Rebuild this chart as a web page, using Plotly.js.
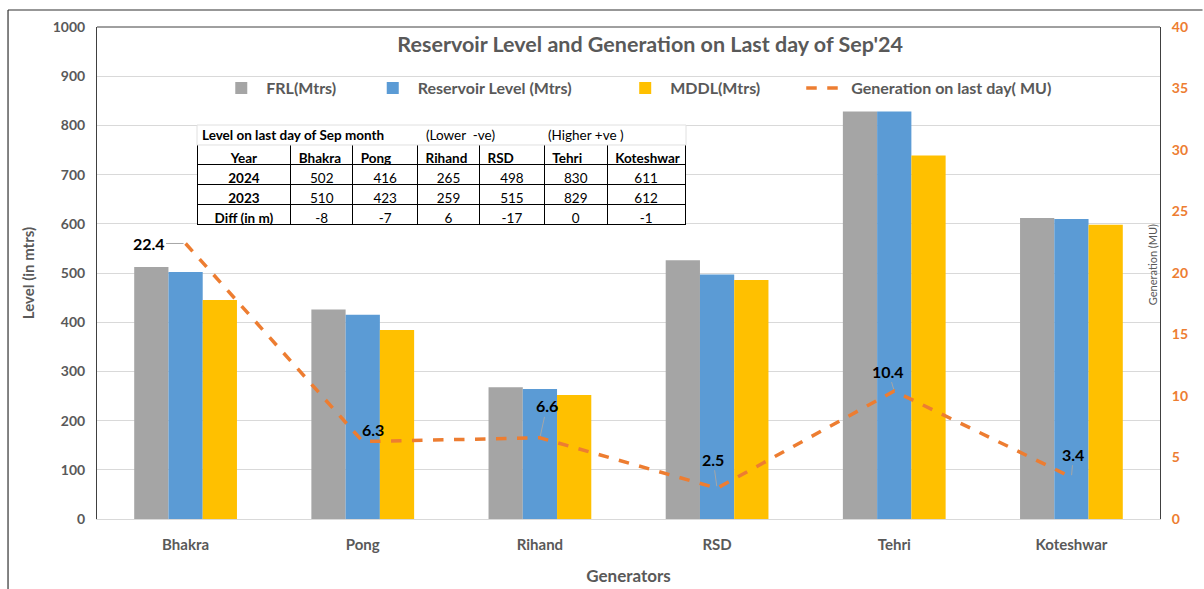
<!DOCTYPE html>
<html>
<head>
<meta charset="utf-8">
<script src="https://cdn.plot.ly/plotly-3.0.1.min.js"></script>
<style>html,body{margin:0;padding:0;background:#fff;}#chart{width:1204px;height:589px;}</style>
</head>
<body>
<div id="chart"></div>
<script>
// ---- data ----
const generators = ['Bhakra', 'Pong', 'Rihand', 'RSD', 'Tehri', 'Koteshwar'];
const frl = [512, 426, 268, 526, 828, 612];
const reservoirLevel = [502, 415, 264, 497, 828, 610];
const mddl = [445, 384, 252, 486, 739, 598];
const generation = [22.4, 6.3, 6.6, 2.5, 10.4, 3.4];

const tableHeader = ['Year', 'Bhakra', 'Pong', 'Rihand', 'RSD', 'Tehri', 'Koteshwar'];
const tableYears = ['2024', '2023', 'Diff (in m)'];
const level2024 = [502, 416, 265, 498, 830, 611];
const level2023 = [510, 423, 259, 515, 829, 612];
const levelDiff = [-8, -7, 6, -17, 0, -1];
const tableTitle = 'Level on last day of Sep month';
const tableNoteLower = '(Lower  -ve)';
const tableNoteHigher = '(Higher +ve )';

// label offsets for generation data labels (px)
const labelOffsets = [[-37, 0, true], [10, -12, false], [7, -32, true], [-4, -29, true], [-6, -20, true], [2, -23, true]];

const FONT = 'Lato, "Open Sans", sans-serif';
const GRAY = '#595959';
const ORANGE = '#ED7D31';

// ---- traces ----
const barFRL = {type: 'bar', name: 'FRL(Mtrs)', x: generators, y: frl, marker: {color: '#A5A5A5'}, legend: 'legend', hoverinfo: 'skip'};
const barRL = {type: 'bar', name: 'Reservoir Level (Mtrs)', x: generators, y: reservoirLevel, marker: {color: '#5B9BD5'}, legend: 'legend2', hoverinfo: 'skip'};
const barMDDL = {type: 'bar', name: 'MDDL(Mtrs)', x: generators, y: mddl, marker: {color: '#FFC000'}, legend: 'legend3', hoverinfo: 'skip'};
const genLine = {type: 'scatter', mode: 'lines', name: 'Generation on last day( MU)', x: generators, y: generation, yaxis: 'y2',
  line: {color: ORANGE, width: 3.5, dash: 'dash'}, legend: 'legend4', hoverinfo: 'skip'};

// table columns
const tableColumns = [tableYears];
for (let i = 0; i < generators.length; i++) {
  tableColumns.push([level2024[i], level2023[i], levelDiff[i]]);
}
const table = {
  type: 'table',
  domain: {x: [0.0941, 0.5541], y: [0.5935, 0.7602]},
  columnwidth: [94, 62, 65, 62, 65, 63, 78],
  header: {
    values: tableHeader,
    align: ['center', 'left', 'left', 'left', 'left', 'left', 'left'],
    height: 20,
    line: {color: '#000', width: 1},
    fill: {color: '#fff'},
    font: {family: FONT, size: 13.5, color: '#000', weight: 'bold'}
  },
  cells: {
    values: tableColumns,
    align: 'center',
    height: 20,
    line: {color: '#000', width: 1},
    fill: {color: '#fff'},
    font: {family: FONT, size: 13.5, color: '#000', weight: ['bold', 'normal', 'normal', 'normal', 'normal', 'normal', 'normal']}
  }
};

// ---- annotations ----
const annotations = generation.map((v, i) => {
  const o = labelOffsets[i];
  const a = {x: generators[i], y: v, xref: 'x', yref: 'y2', text: String(v),
    font: {family: FONT, size: 16, color: '#000', weight: 'bold'}};
  if (o[2]) {
    Object.assign(a, {showarrow: true, ax: o[0], ay: o[1], arrowhead: 0, arrowwidth: 1, arrowcolor: '#A6A6A6', standoff: 2});
  } else {
    Object.assign(a, {showarrow: false, xshift: o[0], yshift: -o[1]});
  }
  return a;
});
annotations.push(
  {xref: 'paper', yref: 'paper', x: 0.097, y: 0.7805, xanchor: 'left', yanchor: 'middle', showarrow: false,
   text: tableTitle, font: {family: FONT, size: 13.5, color: '#000', weight: 'bold'}},
  {xref: 'paper', yref: 'paper', x: 0.3075, y: 0.7805, xanchor: 'left', yanchor: 'middle', showarrow: false,
   text: tableNoteLower, font: {family: FONT, size: 13.5, color: '#000'}},
  {xref: 'paper', yref: 'paper', x: 0.4225, y: 0.7805, xanchor: 'left', yanchor: 'middle', showarrow: false,
   text: tableNoteHigher, font: {family: FONT, size: 13.5, color: '#000'}},
  {xref: 'paper', yref: 'paper', x: 0.9925, y: 0.516, xanchor: 'center', yanchor: 'middle', showarrow: false, textangle: -90,
   text: 'Generation (MU)', font: {family: FONT, size: 11, color: GRAY}}
);

const legendBase = {orientation: 'h', yref: 'paper', y: 0.876, yanchor: 'middle', xanchor: 'left',
  font: {family: FONT, size: 16, color: GRAY, weight: 'bold'}, bgcolor: 'rgba(0,0,0,0)', borderwidth: 0, itemwidth: 40};

const layout = {
  width: 1204, height: 589,
  margin: {l: 97, r: 44, t: 27, b: 70},
  paper_bgcolor: '#fff', plot_bgcolor: '#fff',
  font: {family: FONT, color: GRAY},
  title: {text: "Reservoir Level and Generation on Last day of Sep'24", x: 0.54, xref: 'container', xanchor: 'center', y: 0.925, yref: 'container', yanchor: 'middle',
    font: {family: FONT, size: 21.5, color: GRAY, weight: 'bold'}},
  barmode: 'group', bargap: 0.42, bargroupgap: 0,
  showlegend: true,
  legend: Object.assign({}, legendBase, {x: 0.1122}),
  legend2: Object.assign({}, legendBase, {x: 0.2547}),
  legend3: Object.assign({}, legendBase, {x: 0.4922}),
  legend4: Object.assign({}, legendBase, {x: 0.6625}),
  xaxis: {showline: true, linecolor: '#D9D9D9', linewidth: 1, ticks: 'outside', ticklen: 12, tickcolor: 'rgba(0,0,0,0)', showgrid: false,
    tickfont: {family: FONT, size: 15, color: GRAY, weight: 'bold'},
    title: {text: 'Generators', font: {family: FONT, size: 17, color: GRAY, weight: 'bold'}, standoff: 18}},
  yaxis: {range: [0, 1000], dtick: 100, showgrid: true, gridcolor: '#D9D9D9', gridwidth: 1, zeroline: false,
    showline: true, linecolor: '#404040', linewidth: 1, ticks: 'outside', ticklen: 8, tickcolor: 'rgba(0,0,0,0)',
    tickfont: {family: FONT, size: 14, color: GRAY, weight: 'bold'},
    title: {text: 'Level (in mtrs)', font: {family: FONT, size: 15, color: GRAY, weight: 'bold'}, standoff: 14}},
  yaxis2: {range: [0, 40], dtick: 5, overlaying: 'y', side: 'right', showgrid: false, zeroline: false,
    showline: true, linecolor: '#404040', linewidth: 1, ticks: 'outside', ticklen: 8, tickcolor: 'rgba(0,0,0,0)',
    tickfont: {family: FONT, size: 14, color: ORANGE, weight: 'bold'}},
  shapes: [
    {type: 'line', xref: 'paper', yref: 'paper', x0: 0, x1: 1, y0: 1, y1: 1, line: {color: '#404040', width: 1}},
    {type: 'rect', xref: 'paper', yref: 'paper', x0: 0.0941, x1: 0.5541, y0: 0.7602, y1: 0.8008,
     fillcolor: '#fff', line: {color: '#E0E0E0', width: 1}, layer: 'above'},
    {type: 'line', xref: 'paper', yref: 'paper', x0: -0.0837, x1: -0.0837, y0: 1.0346, y1: -0.15, line: {color: '#303030', width: 1.2}},
    {type: 'line', xref: 'paper', yref: 'paper', x0: -0.0837, x1: 1.04, y0: 1.0346, y1: 1.0346, line: {color: '#303030', width: 1.2}}
  ],
  annotations: annotations
};

Plotly.newPlot('chart', [barFRL, barRL, barMDDL, genLine, table], layout, {displayModeBar: false, staticPlot: true});
</script>
</body>
</html>
